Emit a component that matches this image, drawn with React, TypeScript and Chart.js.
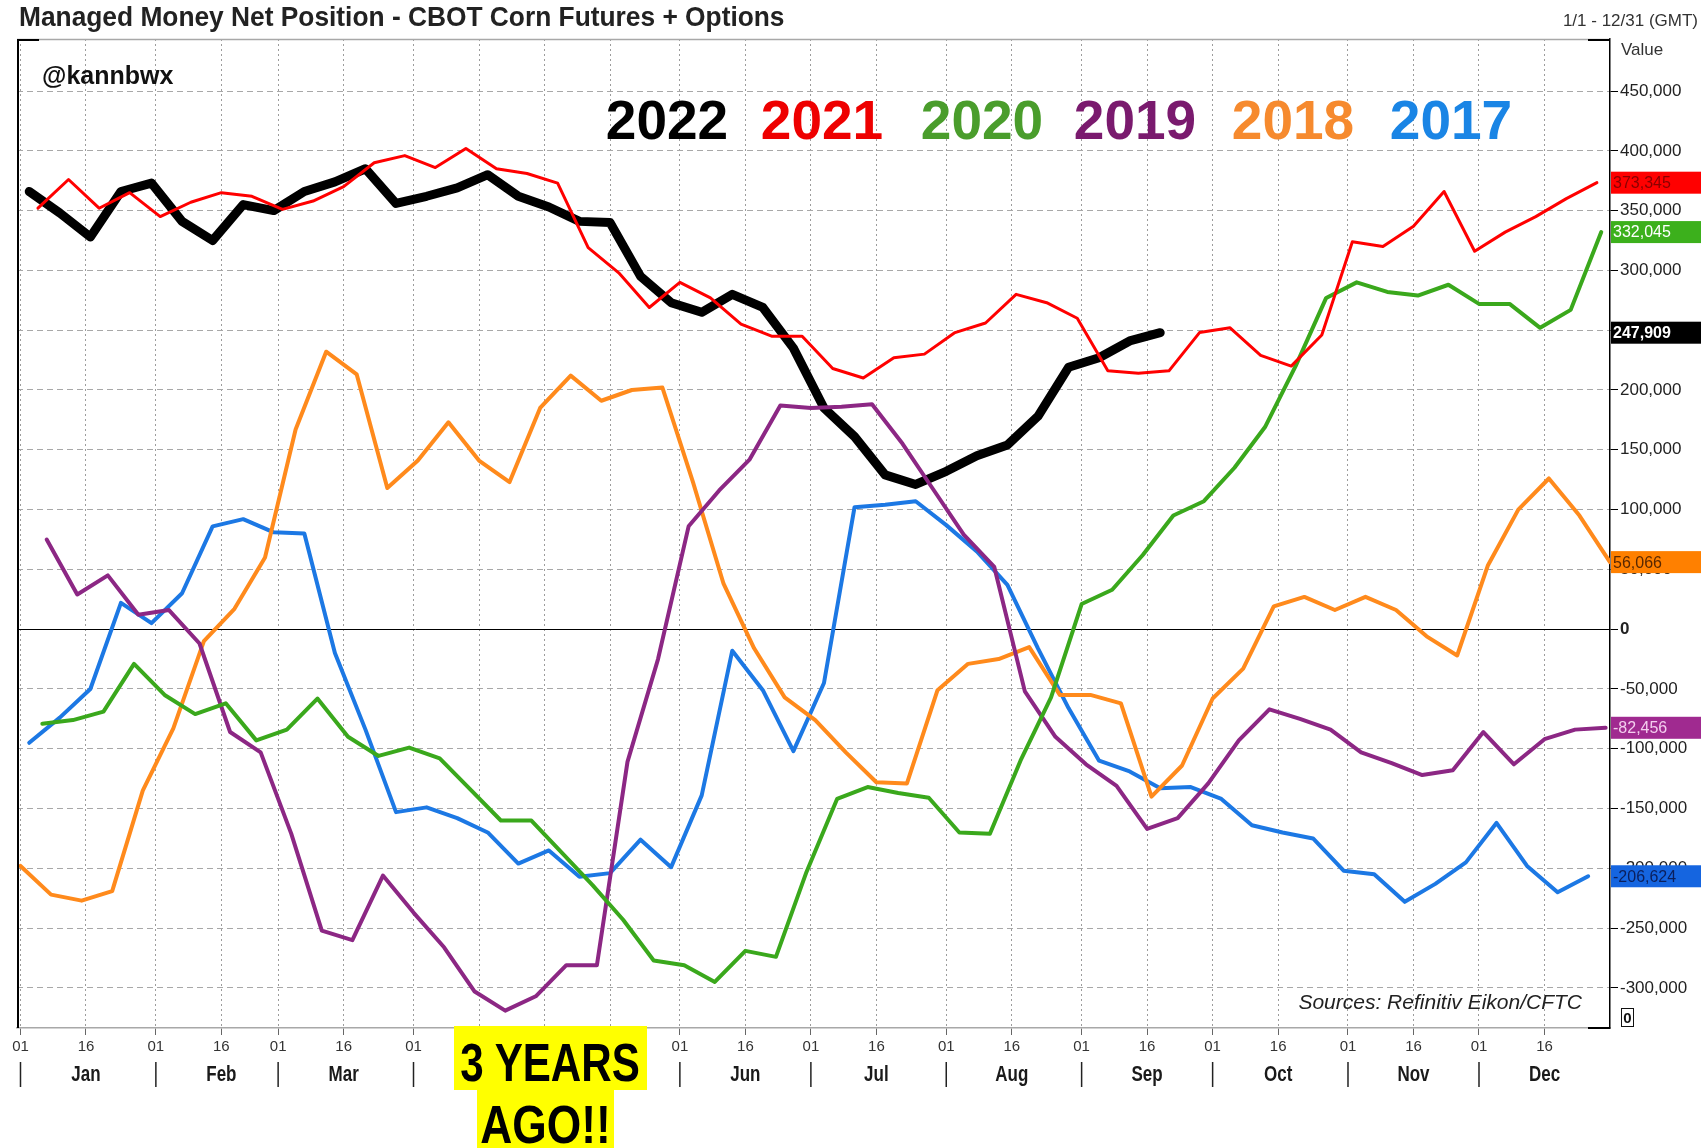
import React, { useEffect, useRef } from "react";
import { Chart, registerables } from "chart.js";

Chart.register(...registerables);

const W = 1701;
const H = 1148;

// ---------- data (values in thousands of contracts) ----------
const UNIT = 1000;
const WEEK_DAYS = 7;

const START_2022 = 2;
const VALUES_2022 = [366, 348, 328, 366, 373, 341, 325, 355, 350, 366, 374, 385, 356, 362, 369, 380, 362, 353, 341, 340, 295, 273, 265, 280, 269, 235, 185, 161, 129, 121, 132, 145, 154, 178, 219, 227, 241, 247.909];

const START_2021 = 4;
const VALUES_2021 = [352, 376, 352, 365, 345, 357, 365, 362, 351, 358, 370, 390, 396, 386, 402, 385, 381, 373, 319, 298, 269, 290, 277, 255, 245, 245, 218, 210, 227, 230, 248, 256, 280, 273, 260, 216, 214, 216, 248, 252, 229, 220, 246, 324, 320, 337, 366, 316, 332, 345, 360, 373.345];

const START_2020 = 5;
const VALUES_2020 = [-79, -76, -69, -29, -55, -71, -62, -93, -84, -58, -90, -106, -99, -108, -134, -160, -160, -187, -214, -243, -277, -281, -295, -269, -274, -203, -142, -132, -137, -141, -170, -171, -110, -57, 21, 33, 62, 95, 107, 135, 169, 220, 277, 290, 282, 279, 288, 272, 272, 252, 267, 332.045];

const START_2019 = 6;
const VALUES_2019 = [75, 29, 45, 12, 16, -12, -86, -103, -171, -252, -260, -206, -237, -266, -303, -319, -307, -281, -281, -111, -25, 86, 116, 142, 187, 185, 186, 188, 155, 117, 79, 52, -52, -90, -113, -131, -167, -158, -129, -93, -67, -75, -84, -103, -112, -122, -118, -86, -113, -92, -84, -82.456];

const START_2018 = 0;
const VALUES_2018 = [-198, -222, -227, -219, -135, -83, -10, 17, 60, 167, 232, 213, 118, 141, 173, 141, 123, 185, 212, 191, 200, 202, 123, 38, -16, -57, -76, -103, -128, -129, -51, -29, -25, -15, -55, -55, -62, -140, -114, -58, -33, 19, 27, 16, 27, 16, -6, -22, 53, 100, 126, 95, 56.066];

const START_2017 = 2;
const VALUES_2017 = [-95, -74, -50, 22, 5, 30, 86, 92, 81, 80, -20, -84, -153, -149, -158, -170, -196, -185, -207, -204, -176, -199, -139, -18, -51, -102, -45, 102, 104, 107, 87, 65, 37, -16, -66, -110, -119, -133, -132, -142, -164, -170, -175, -202, -205, -228, -213, -195, -162, -198, -220, -206.624];

const YEARS = ["2022", "2021", "2020", "2019", "2018", "2017"];
const STARTS = [START_2022, START_2021, START_2020, START_2019, START_2018, START_2017];
const VALUES = [VALUES_2022, VALUES_2021, VALUES_2020, VALUES_2019, VALUES_2018, VALUES_2017];

// axis
const MONTHS = ["Jan", "Feb", "Mar", "Apr", "May", "Jun", "Jul", "Aug", "Sep", "Oct", "Nov", "Dec"];
const MONTH_START_DAYS = [0, 31, 59, 90, 120, 151, 181, 212, 243, 273, 304, 334];
const X_TICK_DAYS = [0, 15, 31, 46, 59, 74, 90, 105, 120, 135, 151, 166, 181, 196, 212, 227, 243, 258, 273, 288, 304, 319, 334, 349];
const X_TICK_LABELS = ["01", "16", "01", "16", "01", "16", "01", "16", "01", "16", "01", "16", "01", "16", "01", "16", "01", "16", "01", "16", "01", "16", "01", "16"];
const Y_TICKS = [-300000, -250000, -200000, -150000, -100000, -50000, 0, 50000, 100000, 150000, 200000, 250000, 300000, 350000, 400000, 450000];
const X_MIN = -0.8;
const X_MAX = 364;
const Y_MIN = -333500;
const Y_MAX = 493500;

// ---------- styles ----------
const LINE_COLORS = ["#000000", "#ff0000", "#3aa81c", "#8c2784", "#ff8a1c", "#1c78e4"];
const LINE_WIDTHS = [9, 3, 4, 4, 4, 4];
const DRAW_ORDER = [5, 0, 1, 2, 3, 4];
const LEGEND_COLORS = ["#000000", "#ee0000", "#4a9d2c", "#7a1a6e", "#f68a2e", "#1a85e5"];
const LEGEND_CENTERS = [667, 822, 982, 1135, 1293, 1451];
const BADGE_BG = ["#000000", "#ff0000", "#3cb01c", "#a02a90", "#ff8000", "#1565e0"];
const BADGE_FG = ["#ffffff", "#8a0000", "#ffffff", "#f3cdee", "#5a2800", "#0b1f5c"];

const NARROW = "'Liberation Sans Narrow', 'Arial Narrow', 'Liberation Sans', Arial, sans-serif";
const SANS = "'Liberation Sans', Arial, sans-serif";

const fmt = (v: number) => Math.round(v).toLocaleString("en-US");

const decorPlugin = {
  id: "decor",
  beforeDatasetsDraw(chart: any) {
    const { ctx, chartArea: a, scales } = chart;
    const y0 = Math.round(scales.y.getPixelForValue(0)) + 0.5;
    ctx.save();
    ctx.strokeStyle = "#000";
    ctx.lineWidth = 1;
    ctx.beginPath();
    ctx.moveTo(a.left, y0);
    ctx.lineTo(a.right, y0);
    ctx.stroke();
    ctx.restore();
  },
  afterDraw(chart: any) {
    const { ctx, chartArea: a, scales } = chart;
    const xs = scales.x;
    const ys = scales.y;
    ctx.save();
    // frame
    ctx.lineWidth = 1.5;
    ctx.strokeStyle = "#a8a8a8";
    ctx.beginPath();
    ctx.moveTo(a.left, a.top + 0.5);
    ctx.lineTo(a.right, a.top + 0.5);
    ctx.stroke();
    ctx.strokeStyle = "#000";
    ctx.lineWidth = 2;
    ctx.beginPath();
    ctx.moveTo(a.left + 1, a.bottom);
    ctx.lineTo(a.left + 1, a.top + 1);
    ctx.lineTo(a.left + 22, a.top + 1);
    ctx.moveTo(a.right - 22, a.top + 1);
    ctx.lineTo(a.right, a.top + 1);
    ctx.moveTo(a.right - 22, a.bottom);
    ctx.lineTo(a.right, a.bottom);
    ctx.stroke();

    // month labels and separators
    ctx.fillStyle = "#1a1a1a";
    ctx.textAlign = "center";
    ctx.textBaseline = "middle";
    MONTHS.forEach((m, i) => {
      const cx = xs.getPixelForValue(MONTH_START_DAYS[i] + 15);
      ctx.save();
      ctx.translate(cx, 1075);
      ctx.scale(0.85, 1.08);
      ctx.font = `bold 20px ${NARROW}`;
      ctx.fillText(m, 0, 0);
      ctx.restore();
      const sx = Math.max(a.left + 2, xs.getPixelForValue(MONTH_START_DAYS[i]));
      ctx.strokeStyle = "#222";
      ctx.lineWidth = 1.5;
      ctx.beginPath();
      ctx.moveTo(sx, 1062);
      ctx.lineTo(sx, 1087);
      ctx.stroke();
    });

    // last-value badges
    ctx.textAlign = "left";
    VALUES.forEach((vals, i) => {
      const v = vals[vals.length - 1] * UNIT;
      const py = ys.getPixelForValue(v);
      ctx.fillStyle = BADGE_BG[i];
      ctx.fillRect(a.right + 1, py - 11, W - a.right - 1, 22);
      ctx.fillStyle = BADGE_FG[i];
      ctx.font = i === 0 ? `bold 16px ${SANS}` : `16px ${SANS}`;
      ctx.fillText(fmt(v), a.right + 3, py + 1);
    });
    ctx.restore();
  },
};

export default function App() {
  const ref = useRef<HTMLCanvasElement | null>(null);

  useEffect(() => {
    const canvas = ref.current;
    if (!canvas) return;
    const datasets = YEARS.map((yr, i) => ({
      label: yr,
      data: VALUES[i].map((v, k) => ({ x: STARTS[i] + k * WEEK_DAYS, y: v * UNIT })),
      borderColor: LINE_COLORS[i],
      backgroundColor: LINE_COLORS[i],
      borderWidth: LINE_WIDTHS[i],
      pointRadius: 0,
      tension: 0,
      fill: false,
      order: DRAW_ORDER[i],
      borderJoinStyle: "round" as const,
      borderCapStyle: "round" as const,
    }));

    const chart = new Chart(canvas, {
      type: "line",
      data: { datasets },
      options: {
        responsive: false,
        animation: false,
        devicePixelRatio: 1,
        layout: { padding: { left: 17, top: 39, right: 0, bottom: 0 } },
        plugins: {
          legend: { display: false },
          tooltip: { enabled: false },
          title: { display: false },
        },
        scales: {
          x: {
            type: "linear",
            position: "bottom",
            min: X_MIN,
            max: X_MAX,
            afterBuildTicks: (s: any) => {
              s.ticks = X_TICK_DAYS.map((v) => ({ value: v }));
            },
            afterFit: (s: any) => {
              s.height = 120;
            },
            grid: {
              color: "#9c9c9c",
              lineWidth: 1,
              drawTicks: true,
              tickLength: 7,
              tickColor: "#666",
              tickBorderDash: [],
            },
            border: { display: true, color: "#a8a8a8", width: 1.5, dash: [2, 3] },
            ticks: {
              autoSkip: false,
              maxRotation: 0,
              minRotation: 0,
              padding: 3,
              color: "#333",
              font: { family: NARROW, size: 15 },
              callback: (_v: any, i: number) => X_TICK_LABELS[i],
            },
          },
          y: {
            type: "linear",
            position: "right",
            min: Y_MIN,
            max: Y_MAX,
            afterBuildTicks: (s: any) => {
              s.ticks = Y_TICKS.map((v) => ({ value: v }));
            },
            afterFit: (s: any) => {
              s.width = 91;
            },
            grid: {
              color: (c: any) => (c.tick && c.tick.value === 0 ? "rgba(0,0,0,0)" : "#a8a8a8"),
              lineWidth: 1,
              drawTicks: true,
              tickLength: 8,
              tickColor: "#000",
              tickBorderDash: [],
            },
            border: { display: true, color: "#000", width: 1.5, dash: [6, 4] },
            ticks: {
              padding: 2,
              color: "#222",
              font: (c: any) => ({
                family: SANS,
                size: 17,
                weight: c.tick && c.tick.value === 0 ? "bold" : "normal",
              }),
              callback: (v: any) => fmt(Number(v)),
            },
          },
        },
      },
      plugins: [decorPlugin],
    } as any);

    return () => chart.destroy();
  }, []);

  const squeeze = (sx: number): React.CSSProperties => ({
    display: "inline-block",
    flex: "none",
    transform: `scaleX(${sx})`,
    transformOrigin: "center",
  });

  const yellowBox = (left: number, top: number, width: number, height: number, lh: number): React.CSSProperties => ({
    position: "absolute",
    left,
    top,
    width,
    height,
    background: "#ffff00",
    display: "flex",
    justifyContent: "center",
    alignItems: "flex-start",
    font: `bold 54px ${NARROW}`,
    lineHeight: `${lh}px`,
    color: "#000",
    whiteSpace: "nowrap",
  });

  return (
    <div style={{ position: "absolute", left: 0, top: 0, width: W, height: H, background: "#fff", overflow: "hidden" }}>
      <canvas ref={ref} width={W} height={H} style={{ position: "absolute", left: 0, top: 0, width: W, height: H }} />
      <div
        style={{
          position: "absolute",
          left: 19,
          top: 3,
          font: `bold 28px ${NARROW}`,
          lineHeight: "28px",
          color: "#222",
          whiteSpace: "nowrap",
          transform: "scaleX(0.94)",
          transformOrigin: "left center",
        }}
      >
        Managed Money Net Position - CBOT Corn Futures + Options
      </div>
      <div style={{ position: "absolute", right: 3, top: 12, font: `17px ${SANS}`, lineHeight: "18px", color: "#333", whiteSpace: "nowrap" }}>
        1/1 - 12/31 (GMT)
      </div>
      <div style={{ position: "absolute", left: 1621, top: 40, font: `17px ${SANS}`, lineHeight: "19px", color: "#333" }}>Value</div>
      <div style={{ position: "absolute", left: 42, top: 63, font: `bold 25px ${SANS}`, lineHeight: "25px", color: "#111", whiteSpace: "nowrap" }}>
        @kannbwx
      </div>
      {YEARS.map((yr, i) => (
        <div
          key={yr}
          style={{
            position: "absolute",
            left: LEGEND_CENTERS[i] - 90,
            width: 180,
            top: 93,
            textAlign: "center",
            font: `bold 55px ${SANS}`,
            lineHeight: "55px",
            color: LEGEND_COLORS[i],
          }}
        >
          {yr}
        </div>
      ))}
      <div style={{ position: "absolute", left: 1200, width: 382, top: 991, textAlign: "right", font: `italic 21px ${SANS}`, lineHeight: "21px", color: "#222", whiteSpace: "nowrap" }}>
        Sources: Refinitiv Eikon/CFTC
      </div>
      <div style={{ position: "absolute", left: 1621, top: 1008, width: 11, height: 17, border: "1.5px solid #111", font: `bold 15px ${SANS}`, lineHeight: "17px", textAlign: "center", color: "#111" }}>
        0
      </div>
      <div style={yellowBox(454, 1026, 193, 64, 72)}>
        <span style={squeeze(0.78)}>3 YEARS</span>
      </div>
      <div style={yellowBox(477, 1090, 137, 58, 68)}>
        <span style={squeeze(0.82)}>AGO!!</span>
      </div>
    </div>
  );
}
